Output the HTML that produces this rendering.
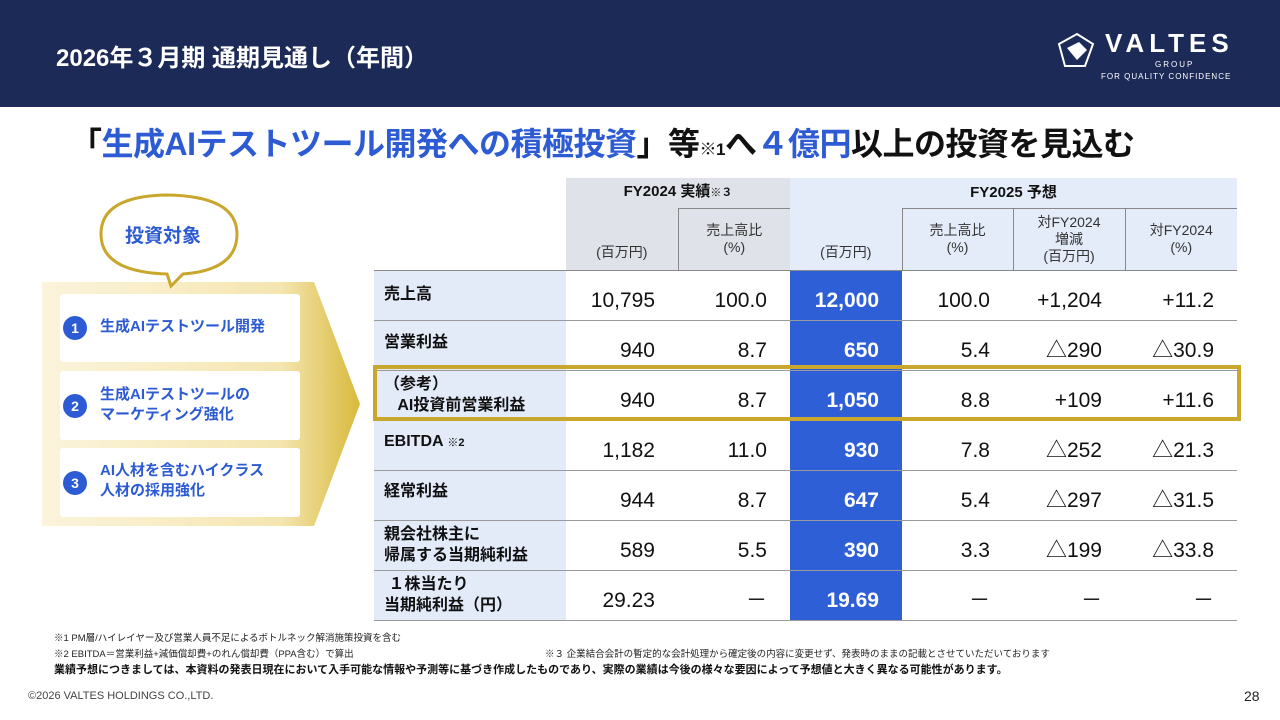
<!DOCTYPE html>
<html><head><meta charset="utf-8">
<style>
*{margin:0;padding:0;box-sizing:border-box}
body{width:1280px;height:720px;position:relative;background:#fff;font-family:"Liberation Sans","Noto Sans CJK JP",sans-serif;overflow:hidden;color:#111}
.a{position:absolute}
table{position:absolute;left:374px;top:178px;border-collapse:collapse;table-layout:fixed}
td{font-size:21px;text-align:right;padding-right:23px;border-bottom:1px solid #9a9a9a;height:50px;vertical-align:middle;padding-top:12px;line-height:24px}
td.l{background:#e3ebf8;text-align:left;font-weight:bold;font-size:16px;padding-left:10px;padding-top:0;line-height:21px}
td.b{background:#2f5fd6;color:#fff;font-weight:bold}
th{font-weight:normal;font-size:14px;line-height:17px;color:#333}
.g{background:#dfe2e9}.lb{background:#e4ecf9}
.item{position:absolute;left:60px;width:240px;background:#fff;border-radius:3px}
.num{position:absolute;left:3px;width:24px;height:24px;border-radius:50%;background:#2d5bd3;color:#fff;font-weight:bold;font-size:14px;text-align:center;line-height:24px}
.it{position:absolute;left:40px;color:#2d5bd3;font-weight:bold;font-size:15px;line-height:20px}
</style></head><body>
<div class="a" style="left:0;top:0;width:1280px;height:107px;background:#1c2a57"></div>
<div class="a" style="left:56px;top:38px;color:#fff;font-size:24px;font-weight:bold">2026年３月期 通期見通し（年間）</div>
<div class="a" style="left:1055px;top:28px;width:180px;height:56px;color:#fff">
 <svg class="a" style="left:0;top:2px" width="42" height="42" viewBox="0 0 42 42"><path d="M4 14 L22 4 L38 14 L30 36 L10 36 Z" fill="none" stroke="#fff" stroke-width="2"/><path d="M12 18 L24 12 L32 20 L22 30 Z" fill="#fff"/></svg>
 <div class="a" style="left:50px;top:0;font-size:26px;font-weight:bold;letter-spacing:5px">VALTES</div>
 <div class="a" style="left:100px;top:32px;font-size:8px;letter-spacing:2px">GROUP</div>
 <div class="a" style="left:46px;top:44px;font-size:8px;letter-spacing:1px;white-space:nowrap">FOR QUALITY CONFIDENCE</div>
</div>
<div class="a" style="left:70px;top:119px;font-size:32px;font-weight:bold;white-space:nowrap;letter-spacing:-0.5px">「<span style="color:#2d5bd3">生成AIテストツール開発への積極投資</span>」等<span style="font-size:17px">※1</span>へ<span style="color:#2d5bd3">４億円</span>以上の投資を見込む</div>

<svg class="a" style="left:38px;top:276px" width="330" height="256">
<defs><linearGradient id="gr" x1="0" x2="1"><stop offset="0" stop-color="#fbf4dc"/><stop offset="0.75" stop-color="#f4e6b0"/><stop offset="1" stop-color="#d9b93c"/></linearGradient></defs>
<path d="M4 6 H276 L322 128 L276 250 H4 Z" fill="url(#gr)"/>
</svg>
<svg class="a" style="left:95px;top:190px" width="150" height="100">
<path d="M72 84 Q6 82 6 44 Q6 6 72 5 Q142 6 142 44 Q142 80 88 84 L76 96 Z" fill="#fff" stroke="#c9a62c" stroke-width="3"/>
</svg>
<div class="a" style="left:125px;top:221px;color:#2d5bd3;font-weight:bold;font-size:19px">投資対象</div>
<div class="item" style="top:294px;height:68px"><div class="num" style="top:22px">1</div><div class="it" style="top:23px">生成AIテストツール開発</div></div>
<div class="item" style="top:371px;height:69px"><div class="num" style="top:23px">2</div><div class="it" style="top:14px">生成AIテストツールの<br>マーケティング強化</div></div>
<div class="item" style="top:448px;height:69px"><div class="num" style="top:23px">3</div><div class="it" style="top:13px">AI人材を含むハイクラス<br>人材の採用強化</div></div>

<table>
<colgroup><col style="width:192px"><col style="width:112px"><col style="width:112px"><col style="width:112px"><col style="width:111px"><col style="width:112px"><col style="width:112px"></colgroup>
<tr style="height:30px"><th></th><th colspan="2" class="g" style="font-weight:bold;font-size:15px;color:#111">FY2024 実績<span style="font-size:11px">※３</span></th><th colspan="4" class="lb" style="font-weight:bold;font-size:15px;color:#111">FY2025 予想</th></tr>
<tr style="height:62px;border-bottom:1px solid #888"><th></th><th class="g" style="padding-top:28px">(百万円)</th><th class="g" style="border-left:1px solid #888;border-top:1px solid #888">売上高比<br>(%)</th><th class="lb" style="padding-top:28px">(百万円)</th><th class="lb" style="border-left:1px solid #888;border-top:1px solid #888">売上高比<br>(%)</th><th class="lb" style="border-left:1px solid #888;border-top:1px solid #888">対FY2024<br>増減<br>(百万円)</th><th class="lb" style="border-left:1px solid #888;border-top:1px solid #888">対FY2024<br>(%)</th></tr>
<tr><td class="l" style="vertical-align:top;padding-top:13px">売上高</td><td>10,795</td><td>100.0</td><td class="b">12,000</td><td>100.0</td><td>+1,204</td><td>+11.2</td></tr>
<tr><td class="l" style="vertical-align:top;padding-top:11px">営業利益</td><td>940</td><td>8.7</td><td class="b">650</td><td>5.4</td><td>△290</td><td>△30.9</td></tr>
<tr><td class="l">（参考）<br>&nbsp;&nbsp;&nbsp;AI投資前営業利益</td><td>940</td><td>8.7</td><td class="b">1,050</td><td>8.8</td><td>+109</td><td>+11.6</td></tr>
<tr><td class="l" style="vertical-align:top;padding-top:10px">EBITDA <span style="font-size:11px">※2</span></td><td>1,182</td><td>11.0</td><td class="b">930</td><td>7.8</td><td>△252</td><td>△21.3</td></tr>
<tr><td class="l" style="vertical-align:top;padding-top:10px">経常利益</td><td>944</td><td>8.7</td><td class="b">647</td><td>5.4</td><td>△297</td><td>△31.5</td></tr>
<tr><td class="l">親会社株主に<br>帰属する当期純利益</td><td>589</td><td>5.5</td><td class="b">390</td><td>3.3</td><td>△199</td><td>△33.8</td></tr>
<tr><td class="l">&nbsp;１株当たり<br>当期純利益（円）</td><td>29.23</td><td>－</td><td class="b">19.69</td><td>－</td><td>－</td><td>－</td></tr>
</table>
<div class="a" style="left:373px;top:365px;width:868px;height:56px;border:4px solid #c9a62c"></div>

<div class="a" style="left:54px;top:630px;font-size:9.5px;color:#222">※1 PM層/ハイレイヤー及び営業人員不足によるボトルネック解消施策投資を含む</div>
<div class="a" style="left:54px;top:646px;font-size:9.5px;color:#222">※2 EBITDA＝営業利益+減価償却費+のれん償却費（PPA含む）で算出</div>
<div class="a" style="left:545px;top:646px;font-size:9.5px;color:#222">※３ 企業結合会計の暫定的な会計処理から確定後の内容に変更せず、発表時のままの記載とさせていただいております</div>
<div class="a" style="left:54px;top:661px;font-size:11px;font-weight:bold">業績予想につきましては、本資料の発表日現在において入手可能な情報や予測等に基づき作成したものであり、実際の業績は今後の様々な要因によって予想値と大きく異なる可能性があります。</div>
<div class="a" style="left:28px;top:690px;font-size:11px;color:#444">©2026 VALTES HOLDINGS CO.,LTD.</div>
<div class="a" style="left:1244px;top:688px;font-size:14px;color:#222">28</div>
</body></html>
